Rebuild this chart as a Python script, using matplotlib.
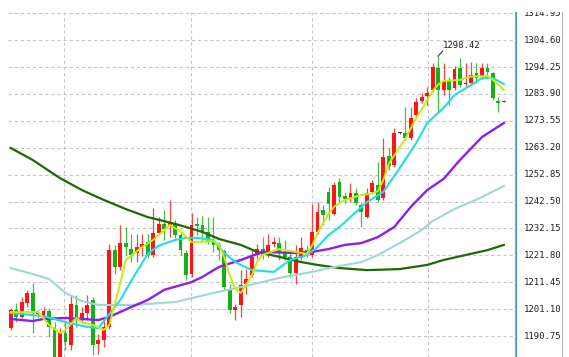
import matplotlib
matplotlib.use("Agg")
import matplotlib.pyplot as plt
from matplotlib.lines import Line2D

# daily candles, oldest first (red = up, green = down)
opens = [1193.8, 1200.8, 1198.1, 1203.4, 1207.3, 1199.2, 1198.4, 1200.4, 1193.8, 1182.7,
         1191.9, 1187.3, 1202.7, 1196.9, 1199.6, 1204.6, 1187.7, 1189.2, 1194.2, 1223.8,
         1217.3, 1226.5, 1224.2, 1222.7, 1225.0, 1226.9, 1221.9, 1230.4, 1233.9, 1233.1,
         1233.9, 1229.6, 1222.7, 1214.6, 1233.9, 1233.5, 1230.8, 1226.9, 1225.8, 1223.4,
         1208.8, 1200.8, 1202.7, 1210.8, 1214.2, 1221.9, 1224.2, 1222.3, 1226.2, 1226.5,
         1223.1, 1221.2, 1215.0, 1220.8, 1223.8, 1221.9, 1230.8, 1239.2, 1246.2, 1237.7,
         1250.0, 1244.6, 1243.5, 1245.8, 1241.2, 1236.5, 1246.2, 1248.9, 1243.9, 1260.0,
         1256.6, 1268.9, 1268.9, 1266.9, 1275.8, 1281.2, 1283.1, 1285.4, 1293.9, 1285.4,
         1289.3, 1286.2, 1293.9, 1287.7, 1288.1, 1291.9, 1290.4, 1293.9, 1292.0, 1281.2,
         1280.8]
highs = [1201.5, 1203.4, 1205.8, 1208.5, 1211.1, 1200.8, 1201.9, 1201.5, 1196.1, 1193.8,
         1196.1, 1206.5, 1206.5, 1201.9, 1206.5, 1205.8, 1191.5, 1198.1, 1226.2, 1225.8,
         1233.5, 1232.7, 1230.0, 1230.0, 1230.0, 1230.0, 1240.0, 1236.5, 1239.2, 1243.1,
         1235.4, 1230.4, 1223.8, 1238.1, 1236.5, 1236.9, 1236.5, 1236.5, 1226.9, 1224.2,
         1210.8, 1203.1, 1216.1, 1216.5, 1223.8, 1226.2, 1228.8, 1230.0, 1228.8, 1228.8,
         1227.7, 1222.7, 1225.8, 1228.8, 1225.8, 1241.5, 1242.3, 1241.2, 1248.1, 1250.0,
         1251.5, 1246.2, 1249.6, 1247.7, 1242.3, 1247.7, 1250.8, 1257.7, 1266.9, 1263.1,
         1270.8, 1269.3, 1278.9, 1278.9, 1282.3, 1284.3, 1286.6, 1295.8, 1298.42, 1295.8,
         1290.4, 1294.6, 1297.7, 1295.8, 1296.2, 1295.8, 1295.8, 1295.8, 1292.3, 1282.7,
         1281.4]
lows = [1193.1, 1196.1, 1197.7, 1201.9, 1191.9, 1198.1, 1197.7, 1190.4, 1181.5, 1181.5,
        1185.4, 1185.4, 1194.2, 1195.7, 1196.9, 1183.4, 1183.8, 1186.5, 1193.4, 1214.6,
        1216.1, 1221.9, 1219.2, 1219.2, 1221.5, 1220.8, 1221.2, 1230.0, 1227.7, 1228.8,
        1228.5, 1221.9, 1212.3, 1213.5, 1229.6, 1226.9, 1226.2, 1223.1, 1220.0, 1208.5,
        1199.6, 1196.9, 1198.1, 1206.9, 1213.5, 1220.4, 1220.4, 1221.2, 1225.0, 1220.0,
        1220.0, 1213.5, 1210.8, 1220.0, 1221.2, 1221.2, 1230.0, 1233.5, 1235.4, 1237.3,
        1241.9, 1241.9, 1242.3, 1241.2, 1232.7, 1236.2, 1245.8, 1242.3, 1243.1, 1254.6,
        1255.8, 1268.5, 1266.2, 1266.2, 1275.0, 1280.4, 1279.6, 1284.6, 1276.9, 1283.5,
        1279.6, 1285.4, 1286.6, 1287.0, 1287.3, 1288.1, 1289.6, 1291.2, 1281.6, 1276.9,
        1280.6]
closes = [1200.8, 1198.1, 1203.8, 1207.3, 1199.6, 1199.6, 1200.4, 1194.2, 1182.7, 1191.9,
          1188.4, 1203.1, 1197.7, 1199.6, 1202.7, 1187.3, 1189.2, 1194.2, 1223.8, 1217.3,
          1226.5, 1225.0, 1221.9, 1225.0, 1226.2, 1221.9, 1230.4, 1233.9, 1231.9, 1234.2,
          1229.6, 1223.8, 1214.2, 1233.5, 1233.1, 1230.4, 1227.3, 1225.8, 1223.8, 1209.6,
          1200.8, 1201.9, 1210.4, 1212.7, 1221.2, 1224.2, 1221.9, 1225.8, 1226.9, 1222.7,
          1221.2, 1215.0, 1221.2, 1224.6, 1221.9, 1230.8, 1238.5, 1237.3, 1241.5, 1248.9,
          1244.2, 1243.5, 1245.8, 1241.9, 1238.5, 1245.8, 1249.6, 1243.1, 1259.6, 1256.2,
          1268.9, 1268.9, 1266.9, 1274.6, 1280.8, 1282.7, 1284.3, 1294.3, 1285.4, 1288.9,
          1285.4, 1293.5, 1287.3, 1288.1, 1291.2, 1290.0, 1293.9, 1292.3, 1282.3, 1280.4,
          1281.2]

# moving averages (candle index, price)
ma5_idx = [0, 5, 7, 9, 10, 12, 13, 15, 17, 18, 20, 21, 24, 26, 28, 29, 31, 33, 34, 37,
           38, 39, 40, 41, 42, 44, 45, 46, 48, 49, 52, 54, 55, 56, 58, 59, 61, 64, 66, 67,
           68, 69, 71, 72, 74, 75, 76, 77, 78, 79, 82, 84, 87, 88, 90]
ma5_val = [1200.0, 1200.0, 1195.0, 1191.9, 1193.1, 1197.7, 1196.1, 1195.0, 1193.1, 1195.0,
           1211.1, 1220.0, 1225.0, 1227.7, 1231.5, 1233.5, 1231.0, 1226.9, 1226.9, 1227.3,
           1225.8, 1221.0, 1214.0, 1209.0, 1207.3, 1214.0, 1219.5, 1222.0, 1223.5, 1224.2,
           1223.1, 1222.3, 1225.5, 1230.5, 1237.7, 1240.5, 1243.1, 1245.0, 1245.6, 1246.5,
           1250.8, 1257.0, 1263.5, 1266.5, 1274.6, 1278.0, 1281.5, 1285.0, 1287.5, 1288.9,
           1289.3, 1290.6, 1290.8, 1289.3, 1285.4]
ma10_idx = [0, 6, 10, 14, 16, 18, 20, 22, 25, 27, 30, 32, 34, 37, 39, 41, 42, 44, 48, 51,
            53, 54, 56, 58, 60, 62, 65, 68, 71, 74, 76, 79, 81, 84, 86, 88, 90]
ma10_val = [1199.6, 1198.4, 1196.1, 1194.2, 1193.8, 1199.2, 1204.6, 1212.0, 1222.3, 1225.5,
            1227.7, 1228.5, 1228.5, 1227.7, 1222.7, 1219.2, 1218.1, 1216.1, 1215.4, 1220.0,
            1221.2, 1221.9, 1225.0, 1229.6, 1232.7, 1236.5, 1242.3, 1246.2, 1255.4, 1265.0,
            1272.7, 1278.5, 1283.5, 1287.3, 1290.0, 1290.0, 1287.7]
ma20_idx = [0, 4, 6, 10, 16, 18, 22, 25, 28, 33, 35, 38, 42, 46, 52, 55, 58, 61, 64, 67,
            70, 73, 76, 79, 82, 86, 88, 90]
ma20_val = [1197.3, 1196.5, 1197.3, 1197.7, 1196.9, 1198.1, 1201.9, 1204.6, 1208.5, 1211.5,
            1213.5, 1217.3, 1220.0, 1223.1, 1222.7, 1223.1, 1224.2, 1225.8, 1226.5, 1228.8,
            1232.7, 1240.4, 1246.9, 1251.2, 1258.5, 1267.3, 1270.0, 1272.7]
ma60_idx = [0, 4, 7, 10, 13, 16, 22, 30, 37, 43, 49, 55, 59, 64, 67, 71, 75, 77, 81, 86, 90]
ma60_val = [1216.9, 1214.6, 1212.7, 1207.3, 1204.2, 1202.7, 1202.7, 1203.8, 1207.3, 1210.0,
            1213.1, 1215.4, 1217.3, 1219.2, 1221.9, 1226.5, 1231.5, 1235.0, 1239.6, 1244.2,
            1248.5]
ma120_idx = [0, 4, 9, 13, 17, 21, 25, 30, 35, 38, 42, 45, 49, 53, 56, 60, 65, 71, 76, 79,
             83, 87, 90]
ma120_val = [1263.1, 1258.5, 1251.5, 1246.9, 1243.1, 1239.6, 1236.5, 1233.9, 1230.8, 1228.1,
             1225.8, 1223.1, 1221.2, 1219.2, 1218.1, 1216.9, 1216.1, 1216.5, 1218.1, 1220.0,
             1221.9, 1223.8, 1225.8]

price_ticks = [1190.75, 1201.10, 1211.45, 1221.80, 1232.15, 1242.50, 1252.85,
               1263.20, 1273.55, 1283.90, 1294.25, 1304.60, 1314.95]
period_marks = [9.7, 32.9, 55.0, 76.2]
peak_idx, peak_val = 78, 1298.42

W, H = 569, 357
UP, DOWN, FLAT = "#ff1414", "#18b018", "#303030"
GRID = "#c6c6c6"
YLIM = (1182.67, 1315.42)

fig = plt.figure(figsize=(W / 100, H / 100), dpi=100)
ax = fig.add_axes([8 / W, 0, (515 - 8) / W, (H - 12) / H])
ax.set_xlim(-0.49, 92.03)
ax.set_ylim(*YLIM)
ax.axis("off")

for p in price_ticks:
    ax.axhline(p, color=GRID, lw=0.8, ls=(0, (3, 2.5)), zorder=0)
for m in period_marks:
    ax.axvline(m, color=GRID, lw=0.8, ls=(0, (3, 2.5)), zorder=0)

for i, (o, h, l, c) in enumerate(zip(opens, highs, lows, closes)):
    col = UP if c > o else DOWN if c < o else FLAT
    ax.vlines(i, l, h, color=col, lw=0.9, alpha=0.8, zorder=2)
    ax.bar(i, max(abs(c - o), 0.35), bottom=min(o, c), width=0.7, color=col, lw=0, zorder=3)

ax.plot(ma120_idx, ma120_val, color="#1f6a00", lw=1.6, zorder=4)
ax.plot(ma60_idx, ma60_val, color="#9fd6da", lw=1.5, zorder=4)
ax.plot(ma20_idx, ma20_val, color="#8a1ff0", lw=1.7, zorder=4)
ax.plot(ma10_idx, ma10_val, color="#22dcec", lw=1.5, zorder=5)
ax.plot(ma5_idx, ma5_val, color="#c8ec10", lw=1.4, zorder=6)

# peak marker
ax.plot([peak_idx, peak_idx + 0.85], [peak_val, peak_val + 2.0], color="#404040", lw=0.8, zorder=7)
ax.text(peak_idx + 0.95, peak_val + 4.3, f"{peak_val:.2f}", fontsize=6.5,
        family="DejaVu Sans Mono", color="#202020", va="center", ha="left", zorder=7)

# price label panel
lax = fig.add_axes([515 / W, 0, (W - 515) / W, (H - 12) / H])
lax.set_xlim(0, 1)
lax.set_ylim(*YLIM)
lax.axis("off")
for p in price_ticks:
    lax.text(0.17, p, f"{p:.2f}", fontsize=6.5, family="DejaVu Sans Mono",
             color="#202020", va="center", ha="left", clip_on=True)

top = 1 - 12 / H
fig.add_artist(Line2D([514.6 / W] * 2, [0, top], color="#b0b040", lw=0.8))
fig.add_artist(Line2D([515.6 / W] * 2, [0, top], color="#4aa0a0", lw=0.8))
fig.add_artist(Line2D([562 / W] * 2, [0, top], color="#b8b8b8", lw=0.8))

fig.savefig("out.png", dpi=100, facecolor="white")
